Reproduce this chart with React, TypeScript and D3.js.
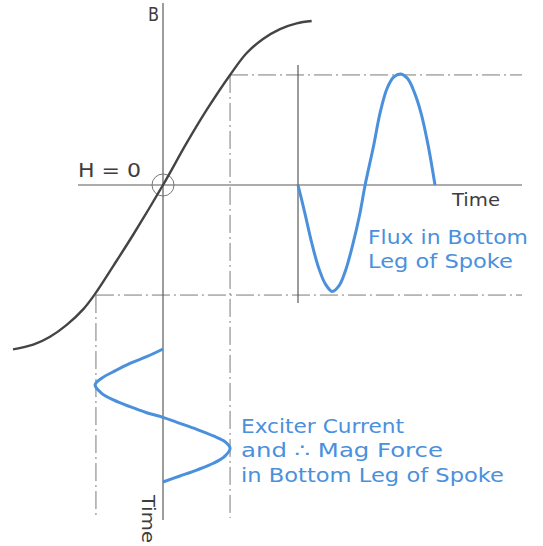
import { useEffect, useRef } from 'react'
import * as d3 from 'd3'

// B-H magnetisation curve, H and B in normalised units
const curveH = [-1.0, -0.865, -0.753, -0.642, -0.531, -0.453, -0.331, -0.198, 0, 0.158, 0.291, 0.447, 0.558, 0.667, 0.78, 0.891, 0.991]
const curveB = [-0.996, -0.968, -0.92, -0.848, -0.752, -0.66, -0.49, -0.3, 0, 0.255, 0.455, 0.667, 0.8, 0.885, 0.945, 0.98, 0.994]

// flux in bottom leg vs time (one cycle)
const fluxT = [0, 0.05, 0.1, 0.15, 0.2, 0.25, 0.3, 0.35, 0.4, 0.45, 0.49, 0.55, 0.6, 0.65, 0.7, 0.75, 0.8, 0.85, 0.9, 0.95, 1.0]
const fluxB = [0, -0.17, -0.35, -0.5, -0.6, -0.645, -0.61, -0.51, -0.36, -0.18, 0, 0.23, 0.44, 0.585, 0.655, 0.673, 0.645, 0.56, 0.43, 0.24, 0]

// exciter current (mag force) vs time, time running downwards
const excT = [0, 0.058, 0.108, 0.171, 0.22, 0.271, 0.333, 0.383, 0.434, 0.479, 0.514, 0.559, 0.604, 0.654, 0.697, 0.747, 0.805, 0.859, 0.91, 0.955, 1.0]
const excH = [0, -0.109, -0.22, -0.331, -0.409, -0.453, -0.409, -0.331, -0.22, -0.109, 0, 0.113, 0.225, 0.336, 0.413, 0.447, 0.413, 0.336, 0.225, 0.113, 0]

// projection levels (peak H, peak B)
const peakH = 0.447
const peakB = 0.667

const fluxLabel = ['Flux in Bottom', 'Leg of Spoke']
const excLabel = ['Exciter Current', 'and ∴ Mag Force', 'in Bottom Leg of Spoke']

const App = () => {
  const ref = useRef<SVGSVGElement>(null)

  useEffect(() => {
    const svg = d3.select(ref.current)
    svg.selectAll('*').remove()

    const width = 543
    const height = 546
    const right = 522
    const bottom = 518
    const blue = '#4a90dc'
    const ink = '#3d3d3d'
    const font = 'DejaVu Sans, sans-serif'

    const xH = d3.scaleLinear().domain([-1, 1]).range([13, 313])
    const yB = d3.scaleLinear().domain([-1, 1]).range([350, 20])
    const xT = d3.scaleLinear().domain([0, 1]).range([298, 435])
    const yT = d3.scaleLinear().domain([0, 1]).range([349, 482])

    svg.attr('width', width).attr('height', height)
    svg.append('rect').attr('width', width).attr('height', height).attr('fill', '#fff')

    const g = svg.append('g')

    // dash-dot projection lines
    const dash = '18 4 2 4'
    const proj = [
      { x1: xH(peakH), y1: yB(peakB), x2: right, y2: yB(peakB) },
      { x1: xH(-peakH), y1: yB(-peakB), x2: right, y2: yB(-peakB) },
      { x1: xH(peakH), y1: yB(peakB), x2: xH(peakH), y2: bottom },
      { x1: xH(-peakH), y1: yB(-peakB), x2: xH(-peakH), y2: bottom },
    ]
    g.selectAll('.proj')
      .data(proj)
      .join('line')
      .attr('x1', (d) => d.x1)
      .attr('y1', (d) => d.y1)
      .attr('x2', (d) => d.x2)
      .attr('y2', (d) => d.y2)
      .attr('stroke', '#7a7a7a')
      .attr('stroke-width', 1)
      .attr('stroke-dasharray', dash)

    // axes
    const axisStroke = '#5a5a5a'
    g.append('line') // H axis + flux time axis
      .attr('x1', 78).attr('x2', right)
      .attr('y1', yB(0)).attr('y2', yB(0))
      .attr('stroke', axisStroke).attr('stroke-width', 1.2)
    g.append('line') // B axis + exciter time axis
      .attr('x1', xH(0)).attr('x2', xH(0))
      .attr('y1', 3).attr('y2', bottom + 2)
      .attr('stroke', axisStroke).attr('stroke-width', 1.2)
    g.append('line') // flux vertical axis
      .attr('x1', xT(0)).attr('x2', xT(0))
      .attr('y1', 65).attr('y2', 303)
      .attr('stroke', axisStroke).attr('stroke-width', 1.2)

    g.append('circle')
      .attr('cx', xH(0)).attr('cy', yB(0)).attr('r', 11)
      .attr('fill', 'none').attr('stroke', '#777').attr('stroke-width', 1)

    // magnetisation curve
    const bh = curveH.map((h, i) => [h, curveB[i]] as [number, number])
    g.append('path')
      .attr('d', d3.line<[number, number]>().x((d) => xH(d[0])).y((d) => yB(d[1])).curve(d3.curveCatmullRom)(bh))
      .attr('fill', 'none').attr('stroke', '#444').attr('stroke-width', 2.4)

    // flux wave
    const flux = fluxT.map((t, i) => [t, fluxB[i]] as [number, number])
    g.append('path')
      .attr('d', d3.line<[number, number]>().x((d) => xT(d[0])).y((d) => yB(d[1])).curve(d3.curveCatmullRom)(flux))
      .attr('fill', 'none').attr('stroke', blue).attr('stroke-width', 3)

    // exciter current wave
    const exc = excT.map((t, i) => [t, excH[i]] as [number, number])
    g.append('path')
      .attr('d', d3.line<[number, number]>().x((d) => xH(d[1])).y((d) => yT(d[0])).curve(d3.curveCatmullRom)(exc))
      .attr('fill', 'none').attr('stroke', blue).attr('stroke-width', 3)

    // labels
    const label = (txt: string, x: number, y: number, len: number, color: string, size = 19) =>
      g.append('text')
        .attr('x', x).attr('y', y)
        .attr('font-family', font).attr('font-size', size)
        .attr('fill', color)
        .attr('textLength', len).attr('lengthAdjust', 'spacingAndGlyphs')
        .text(txt)

    label('B', 148, 21, 11, ink, 20)
    label('H = 0', 78, 177, 63, ink)
    label('Time', 452, 206, 48, ink, 18)

    const fluxLens = [160, 145]
    fluxLabel.forEach((s, i) => label(s, 368, 244 + i * 24, fluxLens[i], blue))

    const excLens = [163, 202, 263]
    excLabel.forEach((s, i) => label(s, 241, 433 + i * 24.3, excLens[i], blue))

    g.append('text')
      .attr('transform', `translate(142,495) rotate(90)`)
      .attr('font-family', font).attr('font-size', 18)
      .attr('fill', ink)
      .attr('textLength', 48).attr('lengthAdjust', 'spacingAndGlyphs')
      .text('Time')
  }, [])

  return (
    <svg
      ref={ref}
      style={{ position: 'absolute', left: 0, top: 0, display: 'block' }}
    />
  )
}

export default App
